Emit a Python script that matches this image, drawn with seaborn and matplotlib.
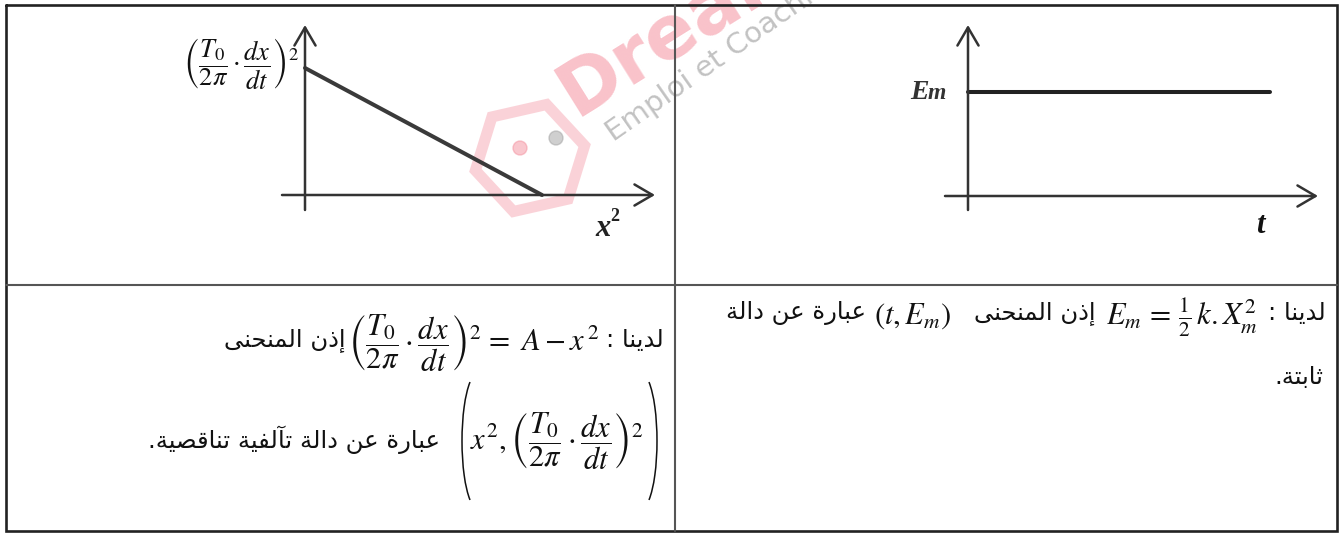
import matplotlib
matplotlib.use("Agg")
import matplotlib.pyplot as plt
import seaborn as sns
import pandas as pd
from matplotlib.patches import RegularPolygon, Circle, Arc

# ---------------- data ----------------
x2_vals = [0.0, 1.0]          # x^2 axis (decreasing affine function)
v2_vals = [1.0, 0.0]          # (T0/2pi . dx/dt)^2
t_vals = [0.0, 1.0]           # time
em_vals = [1.0, 1.0]          # constant mechanical energy

txt_have = "لدينا :"
txt_curve = "إذن المنحنى"
txt_left_2 = "عبارة عن دالة تآلفية تناقصية."
txt_right_1 = "عبارة عن دالة"
txt_right_2 = "ثابتة."

# ---------------- simple arabic shaper ----------------
FORMS = {
    'ا': ('\uFE8D', '\uFE8E', None, None),
    'آ': ('\uFE81', '\uFE82', None, None),
    'إ': ('\uFE87', '\uFE88', None, None),
    'ب': ('\uFE8F', '\uFE90', '\uFE91', '\uFE92'),
    'ة': ('\uFE93', '\uFE94', None, None),
    'ت': ('\uFE95', '\uFE96', '\uFE97', '\uFE98'),
    'ث': ('\uFE99', '\uFE9A', '\uFE9B', '\uFE9C'),
    'ح': ('\uFEA1', '\uFEA2', '\uFEA3', '\uFEA4'),
    'د': ('\uFEA9', '\uFEAA', None, None),
    'ذ': ('\uFEAB', '\uFEAC', None, None),
    'ر': ('\uFEAD', '\uFEAE', None, None),
    'ص': ('\uFEB9', '\uFEBA', '\uFEBB', '\uFEBC'),
    'ع': ('\uFEC9', '\uFECA', '\uFECB', '\uFECC'),
    'ف': ('\uFED1', '\uFED2', '\uFED3', '\uFED4'),
    'ق': ('\uFED5', '\uFED6', '\uFED7', '\uFED8'),
    'ل': ('\uFEDD', '\uFEDE', '\uFEDF', '\uFEE0'),
    'م': ('\uFEE1', '\uFEE2', '\uFEE3', '\uFEE4'),
    'ن': ('\uFEE5', '\uFEE6', '\uFEE7', '\uFEE8'),
    'ى': ('\uFEEF', '\uFEF0', None, None),
    'ي': ('\uFEF1', '\uFEF2', '\uFEF3', '\uFEF4'),
}


def shape(s):
    out = []
    n = len(s)
    for i, c in enumerate(s):
        if c not in FORMS:
            out.append(c)
            continue
        f = FORMS[c]
        prev = s[i - 1] if i > 0 else None
        nxt = s[i + 1] if i < n - 1 else None
        jp = prev in FORMS and FORMS[prev][2] is not None
        jn = f[2] is not None and nxt in FORMS
        if jp and jn:
            out.append(f[3])
        elif jp:
            out.append(f[1])
        elif jn:
            out.append(f[2])
        else:
            out.append(f[0])
    return ''.join(reversed(out))


# ---------------- figure ----------------
sns.set_theme(style="white")
plt.rcParams['font.family'] = ['DejaVu Sans']
plt.rcParams['mathtext.fontset'] = 'stix'

W, H = 1339, 534
fig = plt.figure(figsize=(W / 100, H / 100), dpi=100)
fig.patch.set_facecolor('white')


def box(x0, y0, x1, y1):
    return [x0 / W, 1 - y1 / H, (x1 - x0) / W, (y1 - y0) / H]


bg = fig.add_axes([0, 0, 1, 1], zorder=0)
bg.set_xlim(0, W)
bg.set_ylim(H, 0)
bg.axis('off')

# table borders
outer = '#222222'
inner = '#555555'
bg.plot([6, 1337, 1337, 6, 6], [5, 5, 531, 531, 5], color=outer, lw=1.9,
        solid_joinstyle='miter')
bg.plot([675, 675], [5, 531], color=inner, lw=1.5)
bg.plot([6, 1337], [285, 285], color=inner, lw=1.5)

# watermark
pink = '#f4909e'
bg.text(576, 117, 'Dream', color=pink, alpha=0.55, fontsize=54, fontweight='bold',
        rotation=32, rotation_mode='anchor', ha='left', va='baseline', zorder=1)
bg.text(614, 142, 'Emploi et Coaching', color='#9a9a9a', alpha=0.6, fontsize=21,
        rotation=35, rotation_mode='anchor', ha='left', va='baseline', zorder=1)
bg.add_patch(RegularPolygon((530, 158), 6, radius=56, orientation=0.3,
                            facecolor='none', edgecolor=pink, lw=8, alpha=0.4, zorder=1))
bg.add_patch(Circle((520, 148), 7, color=pink, alpha=0.5, zorder=1))
bg.add_patch(Circle((556, 138), 7, color='#a0a0a0', alpha=0.5, zorder=1))

# ---------------- top-left plot ----------------
axL = fig.add_axes(box(270, 15, 670, 220), zorder=2)
axL.patch.set_alpha(0)
dfL = pd.DataFrame({'x2': x2_vals, 'v2': v2_vals})
sns.lineplot(data=dfL, x='x2', y='v2', ax=axL, color='#3a3a3a', lw=2.9)
axL.set_xlim((270 - 305) / 237, (670 - 305) / 237)
axL.set_ylim((195 - 220) / 127, (195 - 15) / 127)
arrow_kw = dict(arrowstyle='->,head_length=0.65,head_width=0.38', lw=1.8,
                color='#333333', shrinkA=0, shrinkB=0, mutation_scale=20)
axL.annotate('', xy=((655 - 305) / 237, 0), xytext=((282 - 305) / 237, 0),
             arrowprops=arrow_kw)
axL.annotate('', xy=(0, (195 - 25) / 127), xytext=(0, (195 - 210) / 127),
             arrowprops=arrow_kw)
axL.axis('off')

# ---------------- top-right plot ----------------
axR = fig.add_axes(box(935, 15, 1330, 220), zorder=2)
axR.patch.set_alpha(0)
dfR = pd.DataFrame({'t': t_vals, 'Em': em_vals})
sns.lineplot(data=dfR, x='t', y='Em', ax=axR, color='#222222', lw=2.9)
axR.set_xlim((935 - 968) / 302, (1330 - 968) / 302)
axR.set_ylim((196 - 220) / 104, (196 - 15) / 104)
axR.annotate('', xy=((1318 - 968) / 302, 0), xytext=((945 - 968) / 302, 0),
             arrowprops=arrow_kw)
axR.annotate('', xy=(0, (196 - 25) / 104), xytext=(0, (196 - 210) / 104),
             arrowprops=arrow_kw)
axR.axis('off')

# ---------------- labels in the plots ----------------
black = '#111111'
frac = r'\left(\dfrac{T_0}{2\pi}\cdot\dfrac{dx}{dt}\right)^2'
bg.text(300, 64, '$' + frac + '$', fontsize=19,
        ha='right', va='center', color=black, zorder=3)
serif = 'Liberation Serif'
bg.text(595, 236, 'x', family=serif, fontsize=22, fontweight='bold', style='italic',
        ha='left', va='baseline', color='#222222', zorder=3)
bg.text(610, 221, '2', family=serif, fontsize=13, fontweight='bold',
        ha='left', va='baseline', color='#222222', zorder=3)
bg.text(929, 99, 'E', family=serif, fontsize=20, fontweight='bold', style='italic',
        ha='right', va='baseline', color='#333333', zorder=3)
bg.text(928, 99, 'm', family=serif, fontsize=17, fontweight='bold', style='italic',
        ha='left', va='baseline', color='#333333', zorder=3)
bg.text(1256, 233, 't', family=serif, fontsize=22, fontweight='bold', style='italic',
        ha='left', va='baseline', color='#111111', zorder=3)

# ---------------- bottom-left text ----------------
afs = 17.5
mfs = 22
bg.text(664, 340, shape(txt_have), fontsize=afs, ha='right', va='center', color=black)
bg.text(600, 342, r'$=\ A-x^{\,2}$', fontsize=mfs, ha='right', va='center', color=black)
bg.text(482, 343, '$' + frac + '$', fontsize=mfs,
        ha='right', va='center', color=black)
bg.text(346, 340, shape(txt_curve), fontsize=afs, ha='right', va='center', color=black)

bg.text(644, 441, r'$x^2,' + frac + '$',
        fontsize=mfs, ha='right', va='center', color=black)
bg.add_patch(Arc((462 + 16, 441), 32, 136, theta1=97.7, theta2=262.3, color=black, lw=1.1))
bg.add_patch(Arc((657 - 16, 441), 32, 136, theta1=-82.3, theta2=82.3, color=black, lw=1.1))
bg.text(440, 440, shape(txt_left_2), fontsize=afs, ha='right', va='center', color=black)

# ---------------- bottom-right text ----------------
bg.text(1326, 313, shape(txt_have), fontsize=afs, ha='right', va='center', color=black)
bg.text(1258, 318, r'$E_m\,=\,\frac{1}{2}\,k.X_m^2$', fontsize=mfs, ha='right',
        va='center', color=black)
bg.text(1096, 313, shape(txt_curve), fontsize=afs, ha='right', va='center', color=black)
bg.text(951, 316, r'$\left(t,E_m\right)$', fontsize=mfs, ha='right', va='center',
        color=black)
bg.text(866, 313, shape(txt_right_1), fontsize=afs, ha='right', va='center', color=black)
bg.text(1323, 377, shape(txt_right_2), fontsize=afs, ha='right', va='center', color=black)

fig.savefig('out.png', dpi=100, facecolor='white')
